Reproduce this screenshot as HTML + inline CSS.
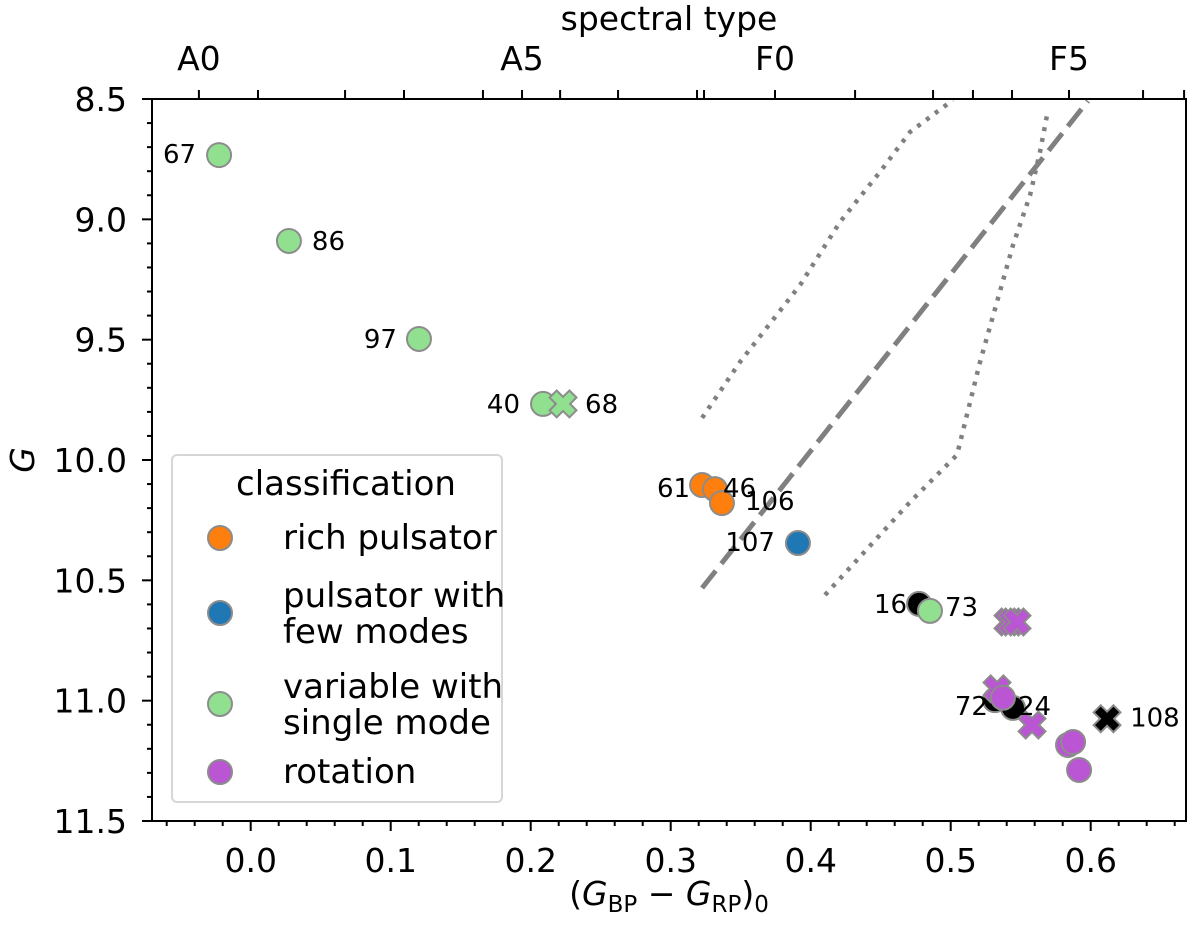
<!DOCTYPE html>
<html><head><meta charset="utf-8"><style>
html,body{margin:0;padding:0;background:#fff;}
svg{display:block;font-family:"DejaVu Sans","Liberation Sans",sans-serif;}
</style></head><body>
<svg id="chart" width="1200" height="927" viewBox="0 0 1200 927" xmlns="http://www.w3.org/2000/svg">
<g id="lines"></g>
<g id="pts"></g>
<g id="ann"></g>
<g id="axes"></g>
<g id="legend"></g>
</svg>
<script>
// ---- data ----
const starIds   = ["67","86","97","40","68","61","46","106","107","16","73","","","","72","","","24","","108","","",""];
const starColor = [-0.0226,0.0273,0.1202,0.2088,0.2231,0.3224,0.3316,0.3366,0.3909,0.4774,0.4852,0.5409,0.5438,0.5474,0.5316,0.5331,0.5373,0.5445,0.5581,0.6117,0.5838,0.5874,0.5917];
const starG     = [8.733,9.090,9.497,9.767,9.767,10.104,10.121,10.179,10.345,10.598,10.627,10.673,10.673,10.673,10.998,10.951,10.988,11.030,11.101,11.075,11.184,11.172,11.288];
const starClass = ["single","single","single","single","single","rich","rich","rich","few","none","single","rot","rot","rot","none","rot","rot","none","rot","none","rot","rot","rot"];
const starShape = ["o","o","o","o","x","o","o","o","o","o","o","x","x","x","o","x","o","o","x","x","o","o","o"];
const labelDx   = [-23,23,-22,-23,22,-12,8,23,-23,-12,15,0,0,0,-7,0,0,5,0,23,0,0,0];
const labelDy   = [8,9,9,9,9,12,8,7,8,9,5,0,0,0,15,0,0,7,0,8,0,0,0];
const dashedX = [0.3224,0.5981];
const dashedY = [10.532,8.508];
const dotLX = [0.3224,0.3495,0.3924,0.4209,0.4495,0.4709,0.5016];
const dotLY = [9.825,9.593,9.273,9.011,8.803,8.637,8.504];
const dotRX = [0.4102,0.4709,0.5045,0.5116,0.5209,0.5331,0.5445,0.5567,0.5638,0.5695];
const dotRY = [10.561,10.175,9.979,9.813,9.593,9.343,9.107,8.899,8.720,8.546];
const xTicks = [0.0,0.1,0.2,0.3,0.4,0.5,0.6];
const xTickLabels = ["0.0","0.1","0.2","0.3","0.4","0.5","0.6"];
const yTicks = [8.5,9.0,9.5,10.0,10.5,11.0,11.5];
const yTickLabels = ["8.5","9.0","9.5","10.0","10.5","11.0","11.5"];
const topTicks = [-0.037,0.0052,0.0674,0.1095,0.1659,0.1938,0.221,0.2624,0.3188,0.3238,0.3745,0.4317,0.4874,0.5159,0.5438,0.5845,0.6374,0.6667];
const topLabelPos = [-0.037,0.1938,0.3745,0.5845];
const topLabels = ["A0","A5","F0","F5"];

const COLORS = {rich:"#ff7f0e",few:"#1f77b4",single:"#90e090",rot:"#ba55d3",none:"#000000"};
const L=152,R=1186,T=99,B=821;
const X0=250.7, XS=1400;
const xs = v => X0 + v*XS;
const ys = v => T + (v-8.5)*(B-T)/3;
const NS="http://www.w3.org/2000/svg";
function mk(tag, attrs, parent){const e=document.createElementNS(NS,tag);for(const k in attrs)e.setAttribute(k,attrs[k]);parent.appendChild(e);return e;}
const gl=document.getElementById('lines'), gp=document.getElementById('pts'), ga=document.getElementById('ann'), gx=document.getElementById('axes');

function poly(X,Y,dash,w,name){
  const d=X.map((v,i)=>(i?'L':'M')+xs(v).toFixed(1)+' '+ys(Y[i]).toFixed(1)).join(' ');
  const p=mk('path',{d:d,fill:'none',stroke:'#808080','stroke-width':w,'stroke-dasharray':dash},gl);
  
  
}
poly(dashedX,dashedY,'22 9',5,'dashed-line');
poly(dotLX,dotLY,'4 7',4.5,'dotted-line-blue-edge');
poly(dotRX,dotRY,'4 7',4.5,'dotted-line-red-edge');

function marker(cx,cy,shape,color,parent){
  let e;
  if(shape==='o'){
    e=mk('circle',{cx:cx,cy:cy,r:12,fill:color,stroke:'#8c8c8c','stroke-width':2},parent);
  } else {
    const h=14,a=5;
    const pts=[[-a,-h],[a,-h],[a,-a],[h,-a],[h,a],[a,a],[a,h],[-a,h],[-a,a],[-h,a],[-h,-a],[-a,-a]];
    e=mk('polygon',{points:pts.map(p=>p.join(',')).join(' '),transform:`translate(${cx},${cy}) rotate(45)`,fill:color,stroke:'#8c8c8c','stroke-width':2},parent);
  }
  return e;
}
const order=[...starColor.keys()].sort((i,j)=>(starClass[i]==='none'?0:1)-(starClass[j]==='none'?0:1));
order.forEach(i=>{
  const m=marker(xs(starColor[i]),ys(starG[i]),starShape[i],COLORS[starClass[i]],gp);
  
  
});
starIds.forEach((id,i)=>{
  if(!id) return;
  const t=mk('text',{x:xs(starColor[i])+labelDx[i],y:ys(starG[i])+labelDy[i],'font-size':26,'text-anchor':labelDx[i]<0?'end':'start',fill:'#000'},ga);
  t.textContent=id;
  
  
});

const fr=mk('rect',{x:L,y:T,width:R-L,height:B-T,fill:'none',stroke:'#000','stroke-width':2},gx);


for(let k=-3;k<=33;k++){
  const v=k*0.02, px=xs(v); if(px<L||px>R) continue;
  const major=k%5===0;
  mk('line',{x1:px,x2:px,y1:B,y2:B+(major?10:5),stroke:'#000','stroke-width':2},gx);
}
xTicks.forEach((v,i)=>{
  const t=mk('text',{x:xs(v),y:872,'font-size':33,'text-anchor':'middle'},gx);
  t.textContent=xTickLabels[i];
  
  
});
for(let k=0;k<=30;k++){
  const v=8.5+k*0.1, py=ys(v), major=k%5===0;
  mk('line',{x1:L,x2:L-(major?10:5),y1:py,y2:py,stroke:'#000','stroke-width':2},gx);
}
yTicks.forEach((v,i)=>{
  const t=mk('text',{x:127,y:ys(v)+12,'font-size':33,'text-anchor':'end'},gx);
  t.textContent=yTickLabels[i];
  
  
});
topTicks.forEach(v=>{const px=xs(v);mk('line',{x1:px,x2:px,y1:T,y2:T-9,stroke:'#000','stroke-width':2},gx);});
topLabelPos.forEach((v,i)=>{
  const t=mk('text',{x:xs(v),y:70,'font-size':33,'text-anchor':'middle'},gx);
  t.textContent=topLabels[i];
  
  
});
</script>
<script>
(function(){
const NS="http://www.w3.org/2000/svg", svg=document.getElementById('chart'), gg=document.getElementById('legend');
function mk(tag,attrs,parent){const e=document.createElementNS(NS,tag);for(const k in attrs)e.setAttribute(k,attrs[k]);parent.appendChild(e);return e;}
const st=mk('text',{x:669,y:30,'font-size':33,'text-anchor':'middle'},svg); st.textContent='spectral type';


const yl=mk('text',{x:0,y:0,'font-size':33,'font-style':'italic','text-anchor':'middle',transform:'translate(34,460) rotate(-90)'},svg); yl.textContent='G';


const xl=mk('text',{x:669,y:905,'font-size':33,'text-anchor':'middle'},svg);
xl.innerHTML='(<tspan font-style="italic">G</tspan><tspan font-size="23" dy="7">BP</tspan><tspan dy="-7"> − </tspan><tspan font-style="italic">G</tspan><tspan font-size="23" dy="7">RP</tspan><tspan dy="-7">)</tspan><tspan font-size="23" dy="7">0</tspan>';


const box=mk('rect',{x:172,y:455,width:330,height:347,rx:5,fill:'#fff','fill-opacity':0.8,stroke:'#d6d6d6','stroke-width':2},gg);


const tt=mk('text',{x:346,y:495,'font-size':34,'text-anchor':'middle'},gg); tt.textContent='classification';


const cols=["#ff7f0e","#1f77b4","#90e090","#ba55d3"];
const labs=[["rich pulsator"],["pulsator with","few modes"],["variable with","single mode"],["rotation"]];
const cy=[538,613,704,772];
labs.forEach((ls,i)=>{
  const g=mk('g',{},gg);
  
  
  mk('circle',{cx:220,cy:cy[i],r:12,fill:cols[i],stroke:'#8c8c8c','stroke-width':2},g);
  ls.forEach((s,j)=>{
    const base = ls.length===1 ? cy[i]+11 : cy[i]-6+j*36;
    const t=mk('text',{x:283,y:base,'font-size':34},g); t.textContent=s;
  });
});
})();
</script>
</body></html>
